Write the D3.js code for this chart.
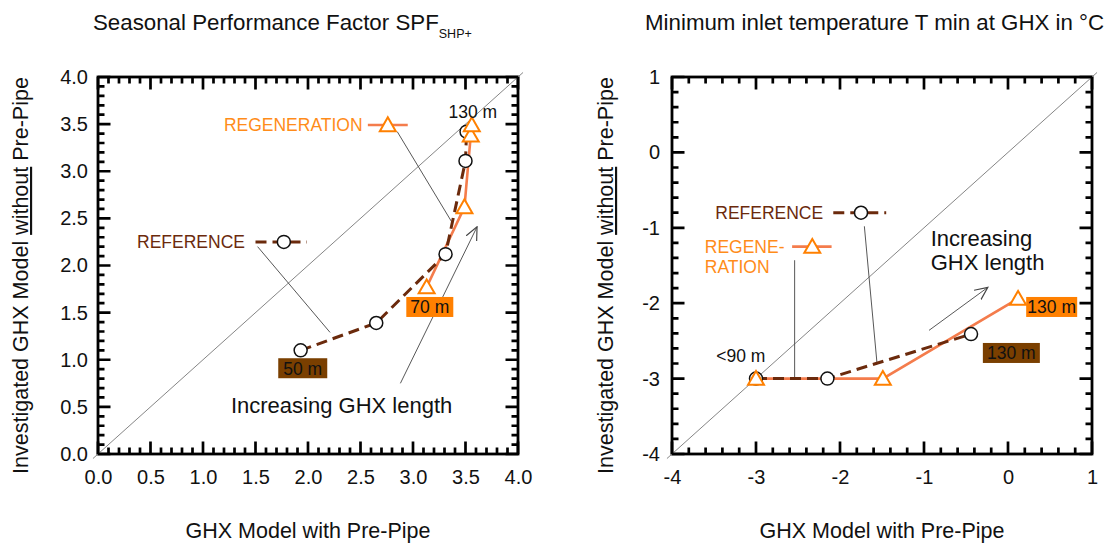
<!DOCTYPE html>
<html>
<head>
<meta charset="utf-8">
<script src="https://cdn.jsdelivr.net/npm/d3@7"></script>
<style>
  body { margin: 0; background: #fff; }
  svg { font-family: "Liberation Sans", Arial, sans-serif; }
  .axis path { display: none; }
  .axis text { font-size: 20px; fill: #111; }
</style>
</head>
<body>
<svg id="chart" width="1112" height="547"></svg>
<script>
// ---- data: left panel (SPF) ----
const spfRefX = [1.93, 2.65, 3.31, 3.50, 3.51];
const spfRefY = [1.10, 1.39, 2.12, 3.11, 3.42];
const spfRegX = [3.13, 3.49, 3.55, 3.56];
const spfRegY = [1.77, 2.62, 3.38, 3.49];
const spfTicks = [0, 0.5, 1, 1.5, 2, 2.5, 3, 3.5, 4];

// ---- data: right panel (T min) ----
const tRefX = [-3.0, -2.15, -0.44];
const tRefY = [-3.0, -3.0, -2.41];
const tRegX = [-3.0, -1.49, 0.12];
const tRegY = [-3.0, -3.0, -1.94];
const tTicks = [-4, -3, -2, -1, 0, 1];

const REF_COL = '#6b2a0c';
const REF_BOX = '#7a3f00';
const REG_LINE = '#f47c4c';
const REG_MARK = '#ff8000';
const REG_TEXT = '#ff8c1a';

const svg = d3.select('#chart');

svg.append('defs').append('marker')
    .attr('id', 'arrow')
    .attr('viewBox', '0 0 12 12')
    .attr('refX', 11).attr('refY', 6)
    .attr('markerWidth', 14).attr('markerHeight', 14)
    .attr('markerUnits', 'userSpaceOnUse')
    .attr('orient', 'auto')
  .append('path')
    .attr('d', 'M0,1 L11,6 L0,11')
    .attr('fill', 'none')
    .attr('stroke', '#444')
    .attr('stroke-width', 1);

function makePanel(cfg) {
    const x = d3.scaleLinear().domain(cfg.domain).range([cfg.left, cfg.right]);
    const y = d3.scaleLinear().domain(cfg.domain).range([cfg.bottom, cfg.top]);
    const g = svg.append('g');

    // tick labels
    g.append('g').attr('class', 'axis').attr('transform', `translate(0,${cfg.bottom})`)
        .call(d3.axisBottom(x).tickValues(cfg.ticks).tickSize(0).tickPadding(16).tickFormat(cfg.fmt));
    g.append('g').attr('class', 'axis').attr('transform', `translate(${cfg.left},0)`)
        .call(d3.axisLeft(y).tickValues(cfg.ticks).tickSize(0).tickPadding(cfg.yPad).tickFormat(cfg.fmt));

    // frame
    g.append('rect')
        .attr('x', cfg.left).attr('y', cfg.top)
        .attr('width', cfg.right - cfg.left).attr('height', cfg.bottom - cfg.top)
        .attr('fill', 'none').attr('stroke', '#000').attr('stroke-width', 2.8);

    // 1:1 diagonal
    const d0 = cfg.domain[0], d1 = cfg.domain[1], ext = (d1 - d0) * 0.012;
    g.append('line')
        .attr('x1', x(d0 - ext)).attr('y1', y(d0 - ext))
        .attr('x2', x(d1 + ext)).attr('y2', y(d1 + ext))
        .attr('stroke', '#777').attr('stroke-width', 0.9);

    // titles
    const title = g.append('text')
        .attr('x', cfg.titleX).attr('y', 30)
        .attr('font-size', 22.3).attr('fill', '#111')
        .text(cfg.title);
    if (cfg.titleSub) {
        title.append('tspan').attr('font-size', 12.5).attr('dy', 8).text(cfg.titleSub);
    }

    g.append('text')
        .attr('x', (cfg.left + cfg.right) / 2).attr('y', 538)
        .attr('text-anchor', 'middle').attr('font-size', 21.5).attr('fill', '#111')
        .text('GHX Model with Pre-Pipe');

    const yt = g.append('text')
        .attr('transform', `translate(${cfg.yTitleX},${(cfg.top + cfg.bottom) / 2 + 10}) rotate(-90)`)
        .attr('text-anchor', 'middle').attr('font-size', 21.5).attr('fill', '#111');
    yt.append('tspan').text('Investigated GHX Model ');
    yt.append('tspan').attr('text-decoration', 'underline').text('without');
    yt.append('tspan').text(' Pre-Pipe');

    return {g, x, y, cfg};
}

// inward ticks on all four sides (major long, minor short)
function drawTicks(p) {
    const cfg = p.cfg;
    const n = Math.round((cfg.domain[1] - cfg.domain[0]) / cfg.minorStep);
    const all = d3.range(n + 1).map(i => cfg.domain[0] + i * cfg.minorStep);
    const tickLen = v => cfg.ticks.some(t => Math.abs(t - v) < 1e-6) ? 12.5 : 6.5;
    let path = '';
    all.forEach(v => {
        const px = p.x(v), py = p.y(v), l = tickLen(v);
        path += 'M' + px + ',' + cfg.bottom + 'V' + (cfg.bottom - l);
        path += 'M' + px + ',' + cfg.top + 'V' + (cfg.top + l);
        path += 'M' + cfg.left + ',' + py + 'H' + (cfg.left + l);
        path += 'M' + cfg.right + ',' + py + 'H' + (cfg.right - l);
    });
    p.g.append('path').attr('d', path)
        .attr('fill', 'none').attr('stroke', '#000').attr('stroke-width', 2.7);
}

function drawSeries(p, xs, ys, kind) {
    const pts = xs.map((v, i) => [v, ys[i]]);
    const line = d3.line().x(d => p.x(d[0])).y(d => p.y(d[1]));
    if (kind === 'ref') {
        p.g.append('path').datum(pts).attr('d', line)
            .attr('fill', 'none').attr('stroke', REF_COL)
            .attr('stroke-width', 3).attr('stroke-dasharray', '11,6');
    } else {
        p.g.append('path').datum(pts).attr('d', line)
            .attr('fill', 'none').attr('stroke', REG_LINE).attr('stroke-width', 2.6);
    }
    return pts;
}

function circleMark(p, px, py) {
    p.g.append('circle').attr('cx', px).attr('cy', py).attr('r', 6.5)
        .attr('fill', '#fff').attr('stroke', '#111').attr('stroke-width', 1.5);
}

const tri = d3.symbol().type(d3.symbolTriangle).size(110);
function triMark(p, px, py) {
    p.g.append('path').attr('d', tri)
        .attr('transform', `translate(${px},${py + 1.5})`)
        .attr('fill', '#fff').attr('stroke', REG_MARK).attr('stroke-width', 2);
}

function label(p, vx, vy, txt, opts = {}) {
    return p.g.append('text')
        .attr('x', p.x(vx)).attr('y', p.y(vy))
        .attr('dy', '0.36em')
        .attr('text-anchor', opts.anchor || 'middle')
        .attr('font-size', opts.size || 17.5)
        .attr('fill', opts.color || '#111')
        .text(txt);
}

function boxLabel(p, vx, vy, txt, fill, w) {
    const cx = p.x(vx), cy = p.y(vy);
    p.g.append('rect').attr('x', cx - w / 2).attr('y', cy - 10)
        .attr('width', w).attr('height', 20).attr('fill', fill);
    p.g.append('text').attr('x', cx).attr('y', cy).attr('dy', '0.36em')
        .attr('text-anchor', 'middle').attr('font-size', 17.5).attr('fill', '#111')
        .text(txt);
}

function leader(p, a, b, arrow) {
    const l = p.g.append('line')
        .attr('x1', p.x(a[0])).attr('y1', p.y(a[1]))
        .attr('x2', p.x(b[0])).attr('y2', p.y(b[1]))
        .attr('stroke', '#444').attr('stroke-width', 0.9);
    if (arrow) l.attr('marker-end', 'url(#arrow)');
}

function legendItem(p, x0, x1, xm, vy, kind) {
    p.g.append('line')
        .attr('x1', p.x(x0)).attr('x2', p.x(x1))
        .attr('y1', p.y(vy)).attr('y2', p.y(vy))
        .attr('stroke', kind === 'ref' ? REF_COL : REG_LINE)
        .attr('stroke-width', kind === 'ref' ? 3 : 2.6)
        .attr('stroke-dasharray', kind === 'ref' ? '11,6' : null);
    if (kind === 'ref') circleMark(p, p.x(xm), p.y(vy));
    else triMark(p, p.x(xm), p.y(vy));
}

// ---------------- left panel ----------------
const left = makePanel({
    domain: [0, 4], ticks: spfTicks, minorStep: 0.1, fmt: d3.format('.1f'),
    left: 98, right: 518, top: 77, bottom: 454, yPad: 10,
    title: 'Seasonal Performance Factor SPF', titleSub: 'SHP+', titleX: 93, yTitleX: 28
});
drawTicks(left);

leader(left, [2.85, 3.42], [3.37, 2.46]);
leader(left, [1.52, 2.20], [2.21, 1.29]);
leader(left, [2.88, 0.75], [3.61, 2.41], true);

drawSeries(left, spfRegX, spfRegY, 'reg');
drawSeries(left, spfRefX, spfRefY, 'ref');
spfRefX.forEach((v, i) => circleMark(left, left.x(v), left.y(spfRefY[i])));
spfRegX.forEach((v, i) => triMark(left, left.x(v), left.y(spfRegY[i])));

label(left, 3.57, 3.63, '130 m');
label(left, 2.52, 3.49, 'REGENERATION', {anchor: 'end', color: REG_TEXT});
legendItem(left, 2.57, 2.95, 2.76, 3.49, 'reg');
label(left, 1.40, 2.25, 'REFERENCE', {anchor: 'end', color: REF_COL});
legendItem(left, 1.50, 1.99, 1.77, 2.25, 'ref');
label(left, 2.32, 0.52, 'Increasing GHX length', {size: 22});
boxLabel(left, 3.16, 1.56, '70 m', REG_MARK, 47);
boxLabel(left, 1.95, 0.91, '50 m', REF_BOX, 49);

// ---------------- right panel ----------------
const right = makePanel({
    domain: [-4, 1], ticks: tTicks, minorStep: 0.2, fmt: d => String(d),
    left: 672, right: 1092, top: 77, bottom: 454, yPad: 12,
    title: 'Minimum inlet temperature T min at GHX in °C', titleSub: null, titleX: 645, yTitleX: 613
});
drawTicks(right);

leader(right, [-2.54, -1.43], [-2.54, -2.99]);
leader(right, [-1.71, -0.98], [-1.56, -2.79]);
leader(right, [-0.94, -2.36], [-0.24, -1.79], true);

drawSeries(right, tRegX, tRegY, 'reg');
drawSeries(right, tRefX, tRefY, 'ref');
tRefX.forEach((v, i) => circleMark(right, right.x(v), right.y(tRefY[i])));
tRegX.forEach((v, i) => triMark(right, right.x(v), right.y(tRegY[i])));

label(right, -3.18, -2.69, '<90 m');
label(right, -2.20, -0.80, 'REFERENCE', {anchor: 'end', color: REF_COL});
legendItem(right, -2.08, -1.45, -1.75, -0.80, 'ref');
label(right, -3.61, -1.25, 'REGENE-', {anchor: 'start', color: REG_TEXT});
label(right, -3.61, -1.52, 'RATION', {anchor: 'start', color: REG_TEXT});
legendItem(right, -2.57, -2.10, -2.33, -1.25, 'reg');
label(right, -0.92, -1.14, 'Increasing', {anchor: 'start', size: 22});
label(right, -0.92, -1.45, 'GHX length', {anchor: 'start', size: 22});
boxLabel(right, 0.52, -2.05, '130 m', REG_MARK, 51);
boxLabel(right, 0.04, -2.66, '130 m', REF_BOX, 57);
</script>
</body>
</html>
